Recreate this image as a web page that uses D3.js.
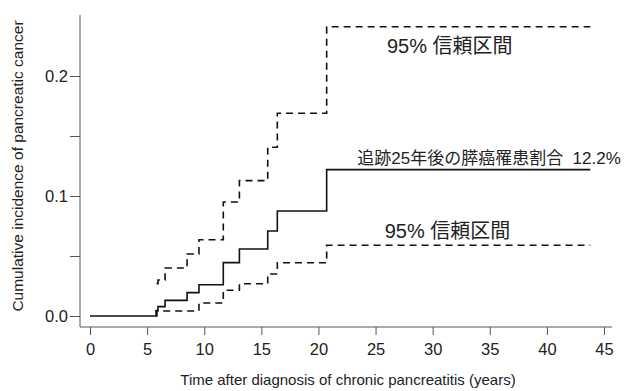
<!DOCTYPE html>
<html>
<head>
<meta charset="utf-8">
<script src="https://cdn.jsdelivr.net/npm/d3@7"></script>
<style>
  body { margin: 0; background: #fff; }
  text { font-family: "Liberation Sans", Arial, sans-serif; fill: #222; }
  .jp { font-family: "Liberation Sans", "Noto Sans CJK JP", sans-serif; white-space: pre; }
</style>
</head>
<body>
<svg id="chart" width="634" height="391"></svg>
<script>
// step data: [years, cumulative incidence]
var estimate = [[0, 0], [5.78, 0.0045], [5.95, 0.0078], [6.57, 0.013], [8.5, 0.0195],
    [9.54, 0.026], [11.67, 0.0445], [13.08, 0.0558], [15.56, 0.0708], [16.4, 0.0875],
    [20.72, 0.122], [43.8, 0.122]];
var upperCI = [[5.82, 0.027], [5.95, 0.030], [6.57, 0.040], [8.5, 0.0517], [9.54, 0.0636],
    [11.67, 0.095], [13.08, 0.1128], [15.56, 0.1406], [16.4, 0.169], [20.72, 0.241], [43.8, 0.241]];
var lowerCI = [[5.8, 0.0], [5.86, 0.0042], [9.54, 0.0108], [11.67, 0.0214], [13.08, 0.0269],
    [15.56, 0.035], [16.4, 0.0444], [20.72, 0.0589], [43.8, 0.0589]];

var xTicks = [0, 5, 10, 15, 20, 25, 30, 35, 40, 45];
var yTicks = [0, 0.1, 0.2];
var yMinorTicks = [0.05, 0.15];

var labels = [
    {text: "95% 信頼区間", x: 26.0, y: 0.219, size: 20},
    {text: "追跡25年後の膵癌罹患割合  12.2%", x: 23.4, y: 0.127, size: 17},
    {text: "95% 信頼区間", x: 25.8, y: 0.065, size: 20}
];

var svg = d3.select("#chart");

var x = d3.scaleLinear().domain([0, 45]).range([90, 604]);
var y = d3.scaleLinear().domain([0, 0.2]).range([316, 76]);

var axisColor = "#555";

// axis lines (they run past the tick range like the original)
svg.append("line")
    .attr("x1", 80).attr("x2", 612)
    .attr("y1", 327).attr("y2", 327)
    .attr("stroke", axisColor).attr("stroke-width", 1);
svg.append("line")
    .attr("x1", 80).attr("x2", 80)
    .attr("y1", 15).attr("y2", 327)
    .attr("stroke", axisColor).attr("stroke-width", 1);

var xAxis = d3.axisBottom(x).tickValues(xTicks).tickSize(8).tickSizeOuter(0)
    .tickFormat(d3.format("d"));
var xg = svg.append("g").attr("transform", "translate(0,327)").call(xAxis);
xg.select(".domain").remove();
xg.selectAll("line").attr("stroke", axisColor);
xg.selectAll("text").attr("dy", "1.05em").style("font-size", "16.5px")
    .style("font-family", "Liberation Sans, Arial, sans-serif").attr("fill", "#222");

var yAxis = d3.axisLeft(y).tickValues(yTicks).tickSize(10).tickSizeOuter(0)
    .tickFormat(d3.format(".1f"));
var yg = svg.append("g").attr("transform", "translate(80,0)").call(yAxis);
yg.select(".domain").remove();
yg.selectAll("line").attr("stroke", axisColor);
yg.selectAll("text").attr("x", -12).style("font-size", "16.5px")
    .style("font-family", "Liberation Sans, Arial, sans-serif").attr("fill", "#222");

var ym = svg.append("g").attr("transform", "translate(80,0)")
    .call(d3.axisLeft(y).tickValues(yMinorTicks).tickSize(10).tickFormat(""));
ym.select(".domain").remove();
ym.selectAll("line").attr("stroke", axisColor);

// step curves
var line = d3.line()
    .x(function(d) { return x(d[0]); })
    .y(function(d) { return y(d[1]); })
    .curve(d3.curveStepAfter);

svg.append("path").datum(estimate)
    .attr("d", line).attr("fill", "none")
    .attr("stroke", "#111").attr("stroke-width", 1.6);

[upperCI, lowerCI].forEach(function(s) {
    svg.append("path").datum(s)
        .attr("d", line).attr("fill", "none")
        .attr("stroke", "#111").attr("stroke-width", 1.6)
        .attr("stroke-dasharray", "7,5");
});

// annotations
svg.selectAll(".note").data(labels).enter().append("text")
    .attr("class", "note jp")
    .attr("x", function(d) { return x(d.x); })
    .attr("y", function(d) { return y(d.y); })
    .style("font-size", function(d) { return d.size + "px"; })
    .text(function(d) { return d.text; });

// axis titles
svg.append("text")
    .attr("x", 348).attr("y", 385)
    .attr("text-anchor", "middle")
    .style("font-size", "15px")
    .text("Time after diagnosis of chronic pancreatitis (years)");

svg.append("text")
    .attr("transform", "translate(23,166) rotate(-90)")
    .attr("text-anchor", "middle")
    .style("font-size", "15.5px")
    .text("Cumulative incidence of pancreatic cancer");
</script>
</body>
</html>
